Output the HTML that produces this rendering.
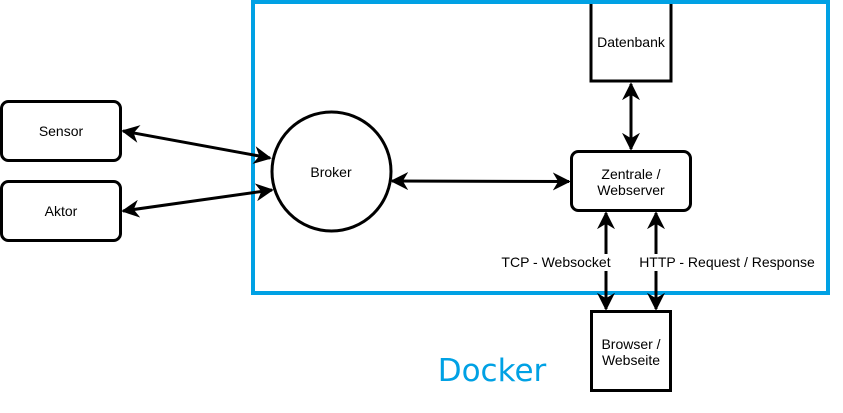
<!DOCTYPE html>
<html><head><meta charset="utf-8"><style>
html,body{margin:0;padding:0;background:#fff;}
svg{display:block;}
text{font-family:"Liberation Sans",Arial,sans-serif;font-size:14px;fill:#000;}
</style></head><body>
<svg width="843" height="413" viewBox="0 0 843 413" xmlns="http://www.w3.org/2000/svg">
<defs>
<marker id="a" viewBox="0 0 10 10" refX="9" refY="5" markerWidth="6" markerHeight="6" orient="auto-start-reverse" markerUnits="strokeWidth">
<path d="M0,0 L10,5 L0,10 L3,5 Z" fill="#000"/>
</marker>
</defs>
<rect x="591" y="2" width="80" height="79" fill="#fff" stroke="#000" stroke-width="3"/>
<rect x="253" y="2" width="575" height="291" fill="none" stroke="#00a1e4" stroke-width="4"/>
<text x="631" y="47" text-anchor="middle">Datenbank</text>
<rect x="1.5" y="101.5" width="119" height="59" rx="7" fill="#fff" stroke="#000" stroke-width="3"/>
<text x="61" y="136" text-anchor="middle">Sensor</text>
<rect x="1.5" y="181.5" width="119" height="59" rx="7" fill="#fff" stroke="#000" stroke-width="3"/>
<text x="61" y="216" text-anchor="middle">Aktor</text>
<circle cx="331.5" cy="171.5" r="59.5" fill="#fff" stroke="#000" stroke-width="3"/>
<text x="331" y="177" text-anchor="middle">Broker</text>
<rect x="571.5" y="151.5" width="119" height="59" rx="7" fill="#fff" stroke="#000" stroke-width="3"/>
<text x="631" y="179" text-anchor="middle">Zentrale /</text>
<text x="631" y="195" text-anchor="middle">Webserver</text>
<rect x="591.5" y="311.5" width="79" height="79" fill="#fff" stroke="#000" stroke-width="3"/>
<text x="631" y="349" text-anchor="middle">Browser /</text>
<text x="631" y="365" text-anchor="middle">Webseite</text>
<g stroke="#000" stroke-width="3" fill="none" marker-start="url(#a)" marker-end="url(#a)">
<line x1="123" y1="131" x2="270" y2="158"/>
<line x1="123" y1="211" x2="272" y2="190"/>
<line x1="392" y1="181" x2="569" y2="181.5"/>
<line x1="631" y1="84" x2="631" y2="149"/>
<line x1="606" y1="213" x2="606" y2="309"/>
<line x1="656" y1="213" x2="656" y2="309"/>
</g>
<rect x="500" y="254" width="112" height="17" fill="#fff"/>
<rect x="638" y="254" width="178" height="17" fill="#fff"/>
<text x="556" y="267" text-anchor="middle">TCP - Websocket</text>
<text x="727" y="267" text-anchor="middle">HTTP - Request / Response</text>
<text x="492" y="381" text-anchor="middle" style="font-size:31px;fill:#00a1e4;font-family:'DejaVu Sans','Liberation Sans',sans-serif">Docker</text>
</svg>
</body></html>
